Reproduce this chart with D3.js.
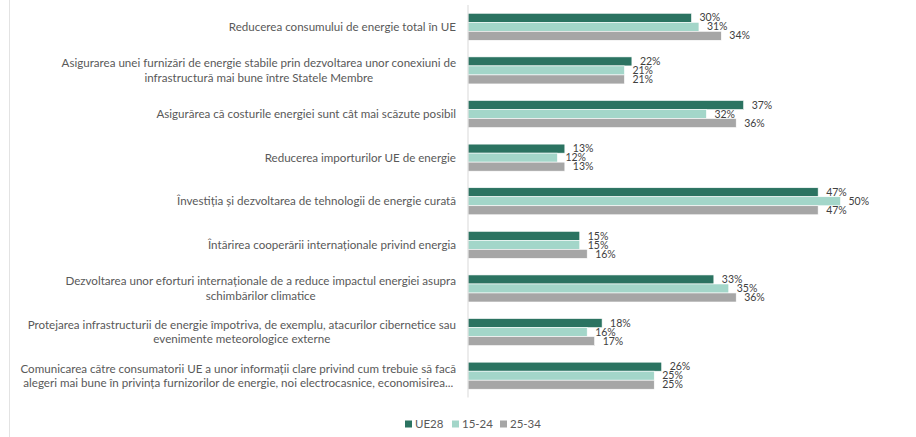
<!DOCTYPE html>
<html>
<head>
<meta charset="utf-8">
<script src="https://cdn.jsdelivr.net/npm/d3@7"></script>
<style>
  body { margin: 0; background: #fff; }
  text { font-family: Lato, "Open Sans", sans-serif; }
</style>
</head>
<body>
<svg></svg>
<script>
"use strict";
var categories = [
  ["Reducerea consumului de energie total în UE"],
  ["Asigurarea unei furnizări de energie stabile prin dezvoltarea unor conexiuni de", "infrastructură mai bune între Statele Membre"],
  ["Asigurărea că costurile energiei sunt cât mai scăzute posibil"],
  ["Reducerea importurilor UE de energie"],
  ["Învestiția și dezvoltarea de tehnologii de energie curată"],
  ["Întărirea cooperării internaționale privind energia"],
  ["Dezvoltarea unor eforturi internaționale de a reduce impactul energiei asupra", "schimbărilor climatice"],
  ["Protejarea infrastructurii de energie împotriva, de exemplu, atacurilor cibernetice sau", "evenimente meteorologice externe"],
  ["Comunicarea către consumatorii UE a unor informații clare privind cum trebuie să facă", "alegeri mai bune în privința furnizorilor de energie, noi electrocasnice, economisirea..."]
];
var seriesNames = ["UE28", "15-24", "25-34"];
var ue28 = [30, 22, 37, 13, 47, 15, 33, 18, 26];
var age1524 = [31, 21, 32, 12, 50, 15, 35, 16, 25];
var age2534 = [34, 21, 36, 13, 47, 16, 36, 17, 25];
var colors = ["#2b7361", "#a3d6c9", "#a6a6a6"];

var allSeries = [ue28, age1524, age2534];
var svgWidth = 916, svgHeight = 437;
var svg = d3.select("svg").attr("width", svgWidth).attr("height", svgHeight);

// faint frame line on the left
svg.append("line").attr("x1", 9.5).attr("x2", 9.5).attr("y1", 0).attr("y2", svgHeight)
  .attr("stroke", "#e3e3e3");

var x = d3.scaleLinear().domain([0, 50]).range([468, 840.5]);
var y = d3.scaleBand().domain(d3.range(categories.length)).range([5, 397.5])
  .paddingInner(0.38).paddingOuter(0.19);
var ySub = d3.scaleBand().domain(d3.range(seriesNames.length)).range([0, y.bandwidth()]);

var groups = svg.selectAll("g.grp").data(categories).enter().append("g")
  .attr("class", "grp")
  .attr("transform", function(d, i) { return "translate(0," + y(i) + ")"; });

groups.each(function(d, i) {
  var g = d3.select(this);
  allSeries.forEach(function(s, k) {
    g.append("rect")
      .attr("x", x(0))
      .attr("y", ySub(k))
      .attr("width", x(s[i]) - x(0))
      .attr("height", ySub.bandwidth())
      .attr("fill", colors[k])
      .attr("stroke", "#fff").attr("stroke-width", 0.6);
    g.append("text")
      .attr("x", x(s[i]) + 8)
      .attr("y", ySub(k) + ySub.bandwidth() / 2)
      .attr("dy", "0.35em")
      .attr("font-size", 10.5)
      .attr("fill", "#404040")
      .text(s[i] + "%");
  });
});

// category labels: block right-aligned, lines centred within block
var labelRight = 456, lineH = 14.5;
groups.each(function(d, i) {
  var g = d3.select(this);
  var cy = y.bandwidth() / 2;
  var texts = d.map(function(line, j) {
    return g.append("text")
      .attr("y", cy + (j - (d.length - 1) / 2) * lineH)
      .attr("dy", "0.35em")
      .attr("font-size", 11.6)
      .attr("fill", "#595959")
      .attr("text-anchor", "middle")
      .text(line);
  });
  var w = d3.max(texts, function(t) { return t.node().getComputedTextLength(); });
  texts.forEach(function(t) { t.attr("x", labelRight - w / 2); });
});

// axis line
svg.append("line").attr("x1", x(0)).attr("x2", x(0))
  .attr("y1", 5).attr("y2", 397.5)
  .attr("stroke", "#d9d9d9").attr("stroke-width", 1);

// legend
var legendX = [405, 452, 500];
var legend = svg.selectAll("g.leg").data(seriesNames).enter().append("g")
  .attr("class", "leg")
  .attr("transform", function(d, i) { return "translate(" + legendX[i] + ",424)"; });
legend.append("rect").attr("x", 0).attr("y", -3.5).attr("width", 7).attr("height", 7)
  .attr("fill", function(d, i) { return colors[i]; });
legend.append("text").attr("x", 10).attr("dy", "0.35em")
  .attr("font-size", 11.5).attr("fill", "#595959")
  .text(function(d) { return d; });
</script>
</body>
</html>
